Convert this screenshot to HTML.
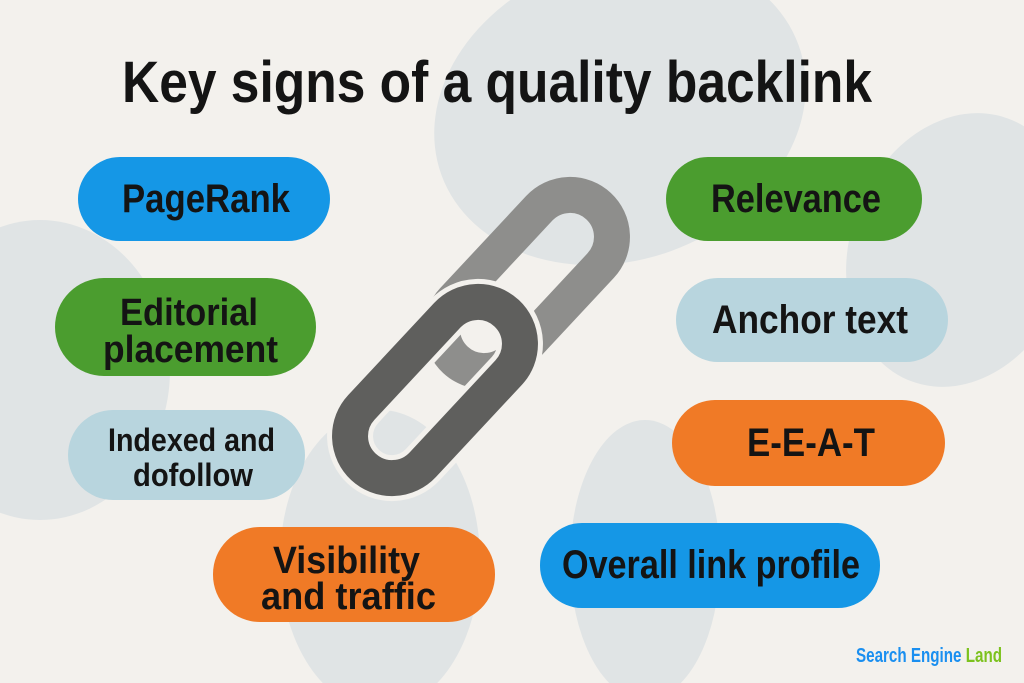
<!DOCTYPE html>
<html><head><meta charset="utf-8"><style>
html,body{margin:0;padding:0;background:#f3f1ed;}
svg{display:block}
text{font-family:"Liberation Sans",sans-serif;font-weight:bold;fill:#141414;}
</style></head><body>
<svg width="1024" height="683" viewBox="0 0 1024 683" xmlns="http://www.w3.org/2000/svg">
<rect width="1024" height="683" fill="#f3f1ed"/>
<g fill="#e0e4e5">
<ellipse cx="620" cy="110" rx="190" ry="150" transform="rotate(-20 620 110)"/>
<ellipse cx="40" cy="370" rx="130" ry="150"/>
<ellipse cx="960" cy="250" rx="110" ry="140" transform="rotate(20 960 250)"/>
<ellipse cx="380" cy="560" rx="100" ry="150"/>
<ellipse cx="645" cy="560" rx="75" ry="140"/>
</g>
<!-- chain -->
<g fill="none">
<rect x="-105" y="-42" width="210" height="84" rx="42" transform="translate(527 283) rotate(-47)" stroke="#8e8e8c" stroke-width="36"/>
<rect x="-105" y="-42" width="210" height="84" rx="42" transform="translate(435 390) rotate(-47)" stroke="#f3f1ed" stroke-width="46"/>
<rect x="-105" y="-42" width="210" height="84" rx="42" transform="translate(435 390) rotate(-47)" stroke="#5f5f5d" stroke-width="36"/>
</g>
<!-- pills -->
<rect x="78" y="157" width="252" height="84" rx="42" fill="#1597e6"/>
<rect x="55" y="278" width="261" height="98" rx="49" fill="#4b9d2f"/>
<rect x="68" y="410" width="237" height="90" rx="45" fill="#b8d5de"/>
<rect x="213" y="527" width="282" height="95" rx="47" fill="#f07a26"/>
<rect x="666" y="157" width="256" height="84" rx="42" fill="#4b9d2f"/>
<rect x="676" y="278" width="272" height="84" rx="42" fill="#b8d5de"/>
<rect x="672" y="400" width="273" height="86" rx="43" fill="#f07a26"/>
<rect x="540" y="523" width="340" height="85" rx="42" fill="#1597e6"/>
<!-- text -->
<text x="122" y="102" font-size="58" textLength="750" lengthAdjust="spacingAndGlyphs">Key signs of a quality backlink</text>
<text x="122" y="212" font-size="40" textLength="168" lengthAdjust="spacingAndGlyphs">PageRank</text>
<text x="120" y="325" font-size="38" textLength="138" lengthAdjust="spacingAndGlyphs">Editorial</text>
<text x="103" y="362" font-size="38" textLength="175" lengthAdjust="spacingAndGlyphs">placement</text>
<text x="108" y="451" font-size="32" textLength="167" lengthAdjust="spacingAndGlyphs">Indexed and</text>
<text x="133" y="486" font-size="32" textLength="120" lengthAdjust="spacingAndGlyphs">dofollow</text>
<text x="273" y="573" font-size="38" textLength="147" lengthAdjust="spacingAndGlyphs">Visibility</text>
<text x="261" y="609" font-size="38" textLength="175" lengthAdjust="spacingAndGlyphs">and traffic</text>
<text x="711" y="212" font-size="40" textLength="170" lengthAdjust="spacingAndGlyphs">Relevance</text>
<text x="712" y="333" font-size="40" textLength="196" lengthAdjust="spacingAndGlyphs">Anchor text</text>
<text x="747" y="456" font-size="40" textLength="128" lengthAdjust="spacingAndGlyphs">E-E-A-T</text>
<text x="562" y="578" font-size="40" textLength="298" lengthAdjust="spacingAndGlyphs">Overall link profile</text>
<text x="856" y="662" font-size="20" textLength="146" lengthAdjust="spacingAndGlyphs"><tspan style="fill:#1a8ff0">Search Engine </tspan><tspan style="fill:#7cc21e">Land</tspan></text>
</svg>
</body></html>
